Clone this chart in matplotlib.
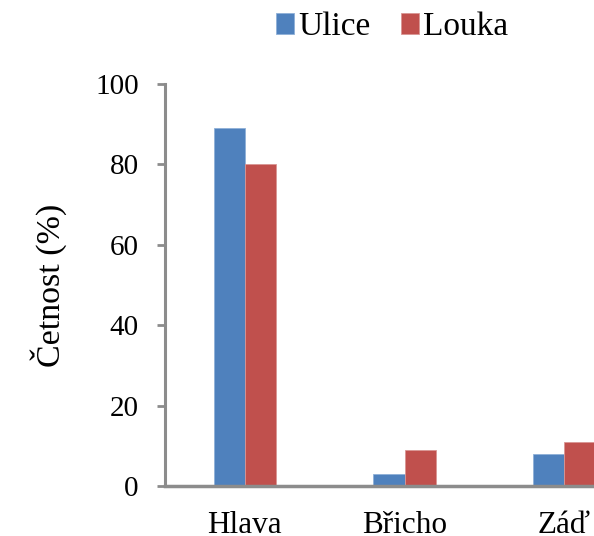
import matplotlib
matplotlib.use("Agg")
import matplotlib.pyplot as plt
import numpy as np

categories = ["Hlava", "Břicho", "Záď"]
ulice = [89, 3, 8]
louka = [80, 9, 11]
series_names = ["Ulice", "Louka"]
yticks = [0, 20, 40, 60, 80, 100]

plt.rcParams['font.family'] = ['Liberation Serif', 'DejaVu Serif']

W, H = 594, 536
fig = plt.figure(figsize=(W/100, H/100), dpi=100)
left_px, right_px = 165, 644
bot_px, top_px = 486, 84
ax = fig.add_axes([left_px/W, 1-bot_px/H, (right_px-left_px)/W, (bot_px-top_px)/H])

x = np.arange(len(categories))
bw = 31/159
ax.bar(x - bw/2, ulice, bw, color="#4F81BD", label=series_names[0], edgecolor="#8FB0D8", linewidth=0.6)
ax.bar(x + bw/2, louka, bw, color="#C0504D", label=series_names[1], edgecolor="#D99694", linewidth=0.6)

ax.set_xlim(-0.5, 2.5)
ax.set_ylim(0, 100)
ax.set_yticks(yticks)
ax.set_xticks(x)
ax.set_xticklabels(categories)
for s in ["top", "right"]:
    ax.spines[s].set_visible(False)
for s in ["left", "bottom"]:
    ax.spines[s].set_color("#8C8C8C")
ax.spines["left"].set_linewidth(2.2)
ax.spines["bottom"].set_linewidth(2.5)
ax.tick_params(axis="y", direction="out", length=6, width=2, color="#8C8C8C", labelsize=21, pad=13)
ax.tick_params(axis="x", length=0, labelsize=22.5, pad=18)
ax.set_ylabel("Četnost (%)", fontsize=24.5, labelpad=20)

ax.legend(loc="center", bbox_to_anchor=(392/W, 1-27/H), bbox_transform=fig.transFigure,
          ncol=2, frameon=False, fontsize=24, handlelength=0.55, handleheight=0.55,
          handletextpad=0.12, columnspacing=0.9, borderaxespad=0)

fig.savefig("out.png", dpi=100)
